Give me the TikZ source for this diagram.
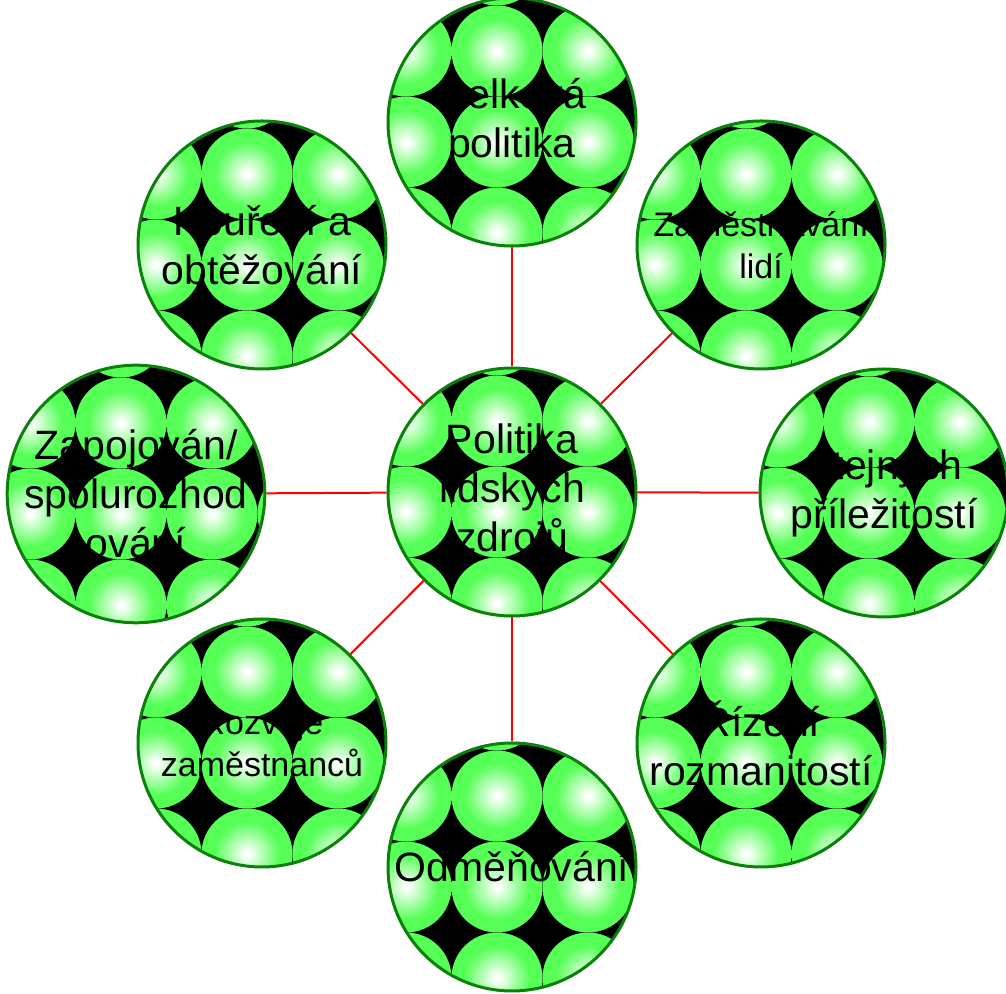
\documentclass[tikz,border=0pt]{standalone}
\usepackage{fontspec}
\setmainfont{Liberation Sans}
\usetikzlibrary{calc}
\newcommand{\TopicFont}{\fontsize{41}{49}\selectfont}
\newcommand{\SmallTopicFont}{\fontsize{34}{42}\selectfont}
\definecolor{spheregreen}{HTML}{55FF55}
\definecolor{rimgreen}{HTML}{0B800B}
\definecolor{spokered}{HTML}{FF0000}
\pgfdeclareradialshading{sphereglow}{\pgfpoint{0bp}{0bp}}{%
  color(0bp)=(white); color(1bp)=(white); color(18bp)=(spheregreen); color(50bp)=(spheregreen)}

\begin{document}
\begin{tikzpicture}[x=1pt,y=1pt,text=black,
  topicball/.style={circle,draw=rimgreen,line width=3pt,minimum size=248pt,
    inner sep=0pt,align=center,font=\TopicFont,
    path picture={
      \fill[black] (path picture bounding box.south west) rectangle (path picture bounding box.north east);
      \foreach \col in {-2,...,2}
        \foreach \row in {-2,...,2}
          \shade[shading=sphereglow]
            ($(path picture bounding box.center)+({\col*91-15},{\row*91-20})$) circle (45.5);
    }},
  spoke/.style={draw=spokered,line width=2pt}]
  \useasboundingbox (0,0) rectangle (1006,993);
  % hub and the eight policies round it
  \node[topicball] (hub) at (512,501) {Politika\\lidských\\zdrojů};
  \node[topicball] (overall) at (512,871) {Celková\\politika};
  \node[topicball,font=\SmallTopicFont] (employment) at (761,748) {Zaměstnávání\\lidí};
  \node[topicball] (equality) at (884,500) {Stejných\\příležitostí};
  \node[topicball] (diversity) at (761,250) {Řízení\\rozmanitostí};
  \node[topicball] (reward) at (512,126) {Odměňování};
  \node[topicball,font=\SmallTopicFont] (development) at (262,250) {Rozvoje\\zaměstnanců};
  \node[topicball] (involvement) at (136,499) {Zapojován/\\spolurozhod\\ování};
  \node[topicball] (smoking) at (262,748) {Kouření a\\obtěžování};
  \foreach \leaf in {overall,employment,equality,diversity,reward,development,involvement,smoking}
    \draw[spoke] (hub) -- (\leaf);
\end{tikzpicture}
\end{document}
